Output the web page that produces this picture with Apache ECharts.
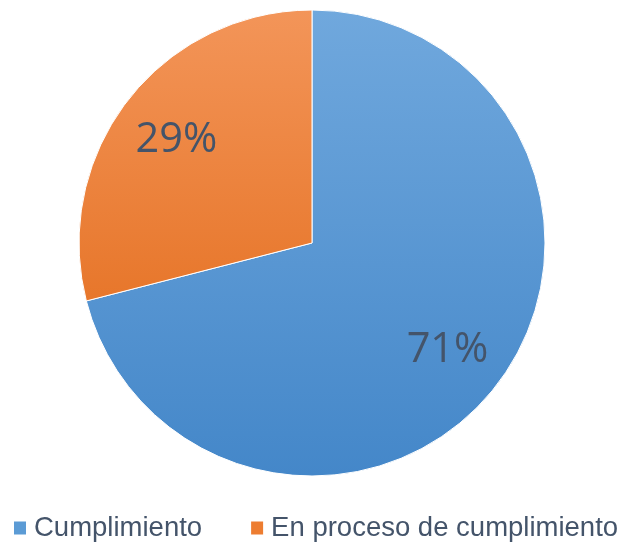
<!DOCTYPE html>
<html>
<head>
<meta charset="utf-8">
<script src="https://cdn.jsdelivr.net/npm/echarts@6/dist/echarts.min.js"></script>
<style>
  html, body { margin: 0; padding: 0; background: #fff; }
  #chart { width: 625px; height: 544px; }
</style>
</head>
<body>
<div id="chart"></div>
<script>
const categories = ['Cumplimiento', 'En proceso de cumplimiento']
const values = [71, 29]
const labels = ['71%', '29%']

const { echarts } = window
const chart = echarts.init(document.getElementById('chart'))

// gradients span the pie box top (y=10) to bottom (y=476)
const gradBlue = new echarts.graphic.LinearGradient(0, 10, 0, 476, [
  { offset: 0, color: '#70a8dd' },
  { offset: 1, color: '#4487c9' }
], true)
const gradOrange = new echarts.graphic.LinearGradient(0, 10, 0, 476, [
  { offset: 0, color: '#f39559' },
  { offset: 1, color: '#e0640f' }
], true)
const fills = [gradBlue, gradOrange]
const legendColors = ['#5b9bd5', '#ed7d31']

const pieData = categories.map((name, i) => ({
  name,
  value: values[i],
  itemStyle: { color: fills[i] }
}))

chart.setOption({
  animation: false,
  color: legendColors,
  legend: {
    top: 514,
    left: 12,
    padding: 0,
    icon: 'rect',
    itemWidth: 14,
    itemHeight: 15,
    itemGap: 47,
    textStyle: { fontFamily: 'Liberation Sans, Arial', fontSize: 27.5, color: '#44546a', padding: [0, 0, 0, 2] },
    data: categories.map((name, i) => ({ name, itemStyle: { color: legendColors[i] } }))
  },
  series: [
    {
      type: 'pie',
      center: [312, 243],
      radius: 233,
      startAngle: 90,
      clockwise: true,
      silent: true,
      label: { show: false },
      labelLine: { show: false },
      itemStyle: { borderColor: '#ffffff', borderWidth: 1 },
      data: pieData
    },
    {
      // transparent ring only used to place the labels at ~73% of the radius
      type: 'pie',
      center: [312, 245],
      radius: [104, 233],
      startAngle: 90,
      clockwise: true,
      silent: true,
      legendHoverLink: false,
      itemStyle: { color: 'rgba(0,0,0,0)' },
      label: {
        show: true,
        position: 'inside',
        fontFamily: 'Open Sans',
        fontSize: 41.5,
        color: '#44546a',
        formatter: (p) => labels[p.dataIndex]
      },
      labelLine: { show: false },
      data: categories.map((name, i) => ({ name: name + ' ', value: values[i] }))
    }
  ]
})
</script>
</body>
</html>
